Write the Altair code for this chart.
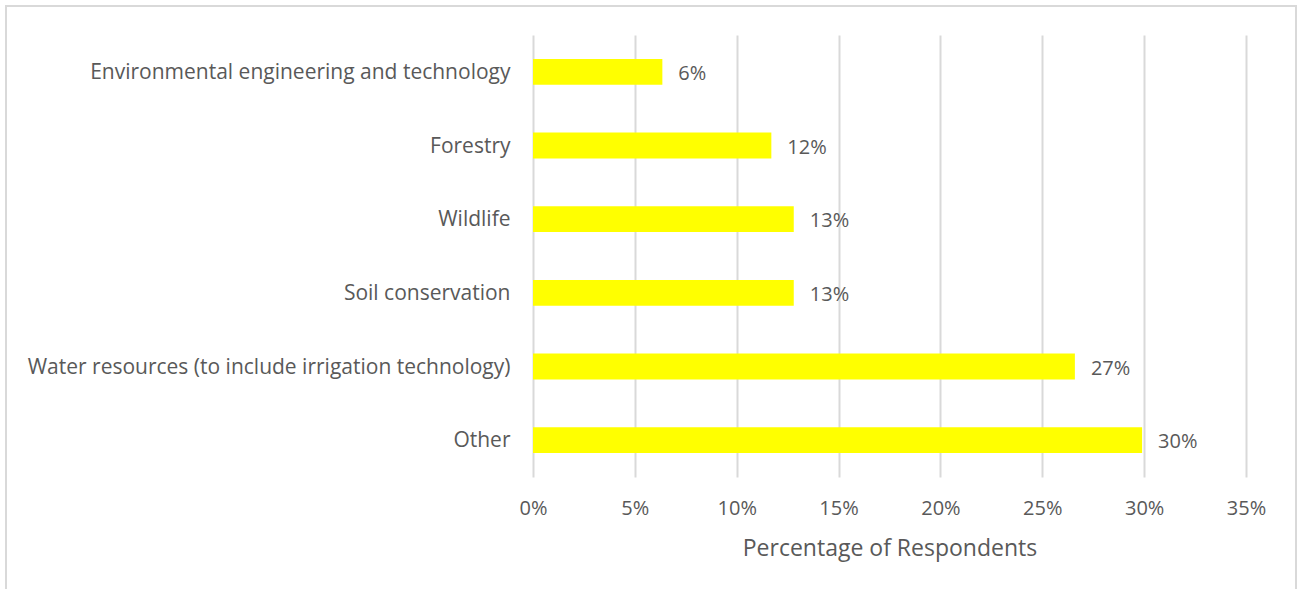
import altair as alt
import pandas as pd

categories = [
    "Environmental engineering and technology",
    "Forestry",
    "Wildlife",
    "Soil conservation",
    "Water resources (to include irrigation technology)",
    "Other",
]
values = [0.0635, 0.117, 0.128, 0.128, 0.266, 0.299]
x_ticks = [0, 0.05, 0.10, 0.15, 0.20, 0.25, 0.30, 0.35]

df = pd.DataFrame({"category": categories, "value": values})

FONT = "Open Sans"
TXT = "#595959"
GRID = "#d9d9d9"

x_enc = alt.X(
    "value:Q",
    scale=alt.Scale(domain=[0, 0.35], nice=False),
    axis=alt.Axis(
        values=x_ticks,
        format=".0%",
        title="Percentage of Respondents",
        grid=True,
        gridColor=GRID,
        gridWidth=2,
        ticks=False,
        domain=False,
        labelFlush=False,
        labelFont=FONT,
        labelFontSize=20,
        labelColor=TXT,
        labelPadding=21,
        titleFont=FONT,
        titleFontSize=23,
        titleFontWeight="normal",
        titleColor=TXT,
        titlePadding=19,
    ),
)
y_enc = alt.Y(
    "category:N",
    sort=categories,
    scale=alt.Scale(paddingInner=0.65, paddingOuter=0.325),
    axis=alt.Axis(
        title=None,
        grid=False,
        ticks=False,
        domain=False,
        labelFont=FONT,
        labelFontSize=21,
        labelColor=TXT,
        labelPadding=23,
        labelOffset=1,
        labelLimit=0,
    ),
)

base = alt.Chart(df)
bars = base.mark_bar(color="#ffff00").encode(x=x_enc, y=y_enc)
labels = base.mark_text(
    align="left", baseline="middle", dx=16, dy=2, font=FONT, fontSize=20, color=TXT
).encode(x=alt.X("value:Q"), y=alt.Y("category:N", sort=categories), text=alt.Text("value:Q", format=".0%"))

border = alt.Chart(pd.DataFrame({"b": [0]})).mark_rect(
    fill="transparent", stroke=GRID, strokeWidth=2
).encode(
    x=alt.value(-527), x2=alt.value(763), y=alt.value(-29), y2=alt.value(600)
)

chart = (
    alt.layer(border, bars, labels)
    .properties(
        width=713,
        height=442,
        autosize=alt.AutoSizeParams(type="none"),
        padding={"left": 533, "top": 35, "right": 55, "bottom": 112},
        background="white",
    )
    .configure_view(stroke=None)
)

chart.save("out.html", embed_options={"renderer": "svg", "actions": False})
